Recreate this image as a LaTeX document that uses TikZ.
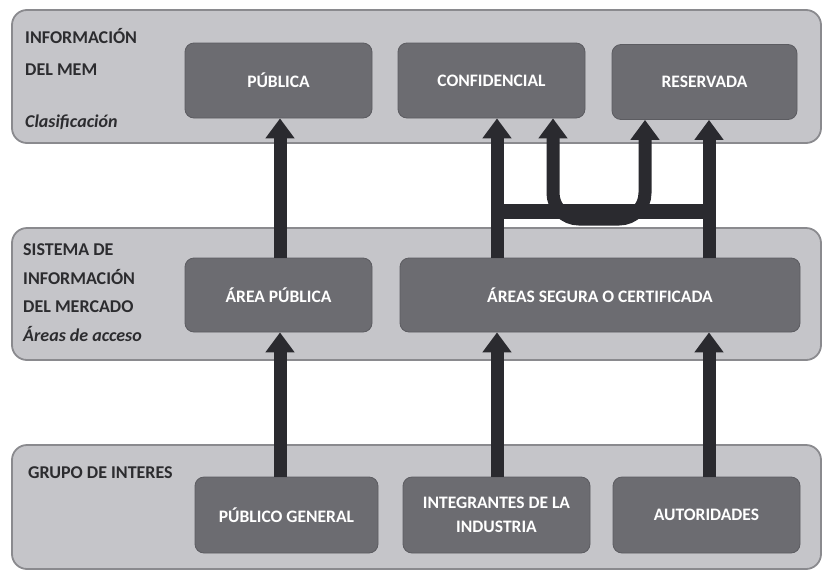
\documentclass[tikz,border=0pt]{standalone}
\usepackage{fontspec}
\setmainfont{Carlito}
\usetikzlibrary{arrows.meta,calc}
\definecolor{bandfill}{HTML}{C5C5C9}
\definecolor{bandline}{HTML}{8A8A8E}
\definecolor{boxfill}{HTML}{6C6C71}
\definecolor{boxline}{HTML}{5C5C61}
\definecolor{arrcol}{HTML}{2A2A2F}
\definecolor{labcol}{HTML}{2C2C2F}
\begin{document}
\begin{tikzpicture}[x=1pt,y=-1pt,
  band/.style={draw=bandline, line width=1.8pt, fill=bandfill, rounded corners=15pt, minimum width=809pt, inner sep=0pt},
  cls/.style={fill=boxfill, draw=boxline, line width=0.8pt, rounded corners=9pt, text=white,
    font=\fontsize{17.5}{24}\selectfont\bfseries, align=center, inner sep=0pt},
  lab/.style={text=labcol, font=\fontsize{18}{28.5}\selectfont\bfseries, align=left, anchor=west, inner sep=0pt},
  arr/.style={draw=arrcol, line width=13pt, -{Triangle[width=28pt,length=20pt]}},
  uarr/.style={draw=arrcol, line width=13pt, rounded corners=26pt, {Triangle[width=28pt,length=20pt]}-{Triangle[width=28pt,length=20pt]}},
  bar/.style={draw=arrcol, line width=15pt},
]
\useasboundingbox (0,0) rectangle (823,579);
\fill[white] (0,0) rectangle (823,579);

% bands
\node[band, minimum height=133pt] (b1) at (416.5,76.5) {};
\node[band, minimum height=132pt] (b2) at (416.5,294) {};
\node[band, minimum height=124pt] (b3) at (416.5,507) {};

% band labels
\node[lab, font=\fontsize{18}{32}\selectfont\bfseries] (l1) at (25,51.5) {INFORMACIÓN\\DEL MEM};
\node[lab, font=\fontsize{18}{20}\selectfont\bfseries\itshape] (l1b) at (25,122) {Clasificación};
\node[lab] (l2) at (23,292.5) {SISTEMA DE\\INFORMACIÓN\\DEL MERCADO\\\textit{Áreas de acceso}};
\node[lab] (l3) at (28,473) {GRUPO DE INTERES};

% boxes
\node[cls, minimum width=187pt, minimum height=75pt] (publica) at (278.5,80.5) {PÚBLICA};
\node[cls, minimum width=187pt, minimum height=75pt] (confid) at (491.5,80.5) {CONFIDENCIAL};
\node[cls, minimum width=185pt, minimum height=75pt] (reserv) at (704.5,82) {RESERVADA};
\node[cls, minimum width=187pt, minimum height=74pt] (areapub) at (278.5,295) {ÁREA PÚBLICA};
\node[cls, minimum width=400pt, minimum height=74pt] (segura) at (600,295) {ÁREAS SEGURA O CERTIFICADA};
\node[cls, minimum width=183pt, minimum height=76pt] (pubgen) at (286.5,515) {PÚBLICO GENERAL};
\node[cls, minimum width=187pt, minimum height=76pt] (integ) at (496.5,515) {INTEGRANTES DE LA\\INDUSTRIA};
\node[cls, minimum width=187pt, minimum height=76pt] (autor) at (706.5,515) {AUTORIDADES};

% connector columns
\coordinate (cA) at (280,0);
\coordinate (cB) at (497,0);
\coordinate (cC) at (553,0);
\coordinate (cD) at (645,0);
\coordinate (cE) at (709,0);
\coordinate (hb) at (0,211);
\coordinate (ub) at (0,219);

% connectors
\draw[arr] (pubgen.north -| cA) -- (areapub.south -| cA);
\draw[arr] (integ.north -| cB) -- (segura.south -| cB);
\draw[arr] (autor.north -| cE) -- (segura.south -| cE);
\draw[arr] (areapub.north -| cA) -- (publica.south -| cA);
\draw[bar] (cB |- hb) -- (cE |- hb);
\draw[arr] (segura.north -| cB) -- (confid.south -| cB);
\draw[arr] (segura.north -| cE) -- (reserv.south -| cE);
\draw[uarr] (confid.south -| cC) -- (cC |- ub) -- (cD |- ub) -- (reserv.south -| cD);
\end{tikzpicture}
\end{document}
